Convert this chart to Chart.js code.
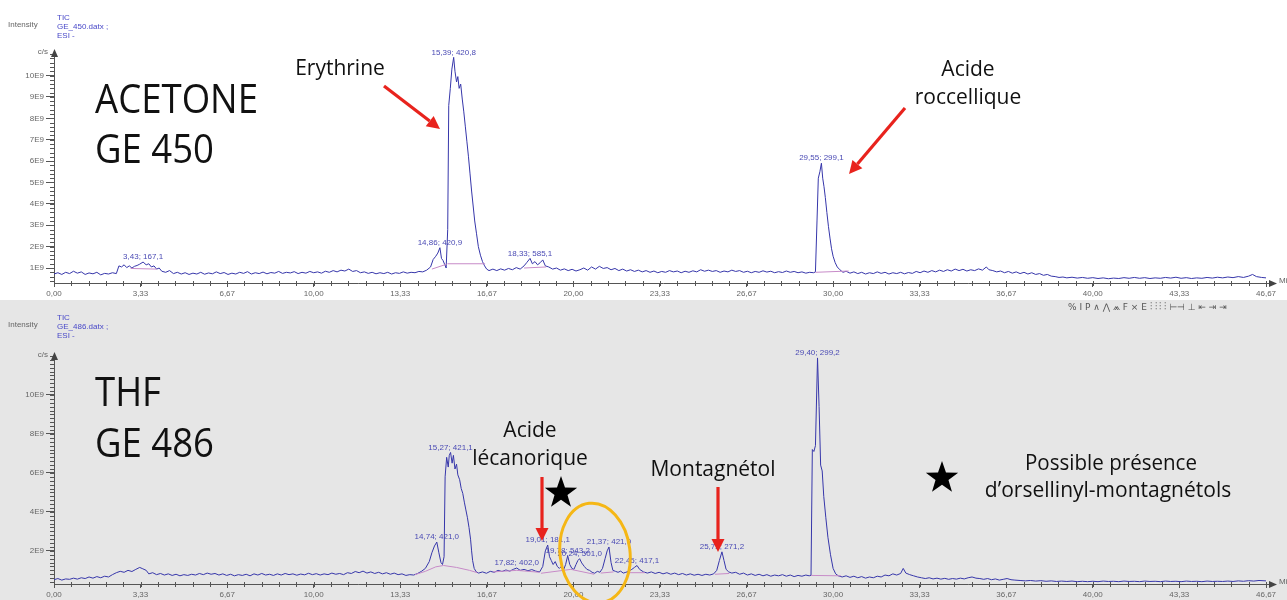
<!DOCTYPE html>
<html>
<head>
<meta charset="utf-8">
<script src="https://cdn.jsdelivr.net/npm/chart.js@4.4.1/dist/chart.umd.min.js"></script>
<style>
  html, body { margin: 0; padding: 0; background: #fff; }
  #wrap { position: relative; width: 1287px; height: 600px; overflow: hidden; }
  canvas { position: absolute; left: 0; display: block; }
  #top { top: 0; background: #ffffff; }
  #bottom { top: 300px; background: #e6e6e6; }
</style>
</head>
<body>
<div id="wrap">
  <canvas id="top" width="1287" height="300"></canvas>
  <canvas id="bottom" width="1287" height="300"></canvas>
</div>
<script>
// Retention-time axis (minutes)
const xTicks = [0, 3.33, 6.67, 10, 13.33, 16.67, 20, 23.33, 26.67, 30, 33.33, 36.67, 40, 43.33, 46.67];
const xTickLabels = ['0,00', '3,33', '6,67', '10,00', '13,33', '16,67', '20,00', '23,33', '26,67', '30,00', '33,33', '36,67', '40,00', '43,33', '46,67'];

// Intensity ticks (units of 1E9 c/s)
const acetoneYTicks = [1, 2, 3, 4, 5, 6, 7, 8, 9, 10];
const thfYTicks = [2, 4, 6, 8, 10];

// TIC trace, GE 450 (acetone extract): [minutes, intensity in 1E9 c/s]
const acetoneTic = [
  [0.00,0.72],[0.15,0.78],[0.30,0.70],[0.45,0.80],[0.60,0.74],[0.75,0.85],[0.90,0.76],[1.05,0.82],[1.20,0.70],[1.35,0.77],
  [1.50,0.73],[1.65,0.80],[1.80,0.68],[1.95,0.75],[2.10,0.72],[2.25,0.78],[2.40,0.74],[2.50,1.10],[2.60,1.05],[2.70,1.15],
  [2.80,1.02],[2.90,1.10],[3.00,1.00],[3.10,1.08],[3.20,1.12],[3.30,1.18],[3.43,1.28],[3.55,1.15],[3.65,1.20],[3.75,1.05],
  [3.85,1.10],[3.95,0.95],[4.05,1.00],[4.15,0.85],[4.30,0.80],[4.45,0.88],[4.60,0.74],[4.75,0.80],[4.90,0.72],[5.05,0.78],
  [5.20,0.70],[5.35,0.76],[5.50,0.72],[5.65,0.80],[5.80,0.71],[5.95,0.77],[6.10,0.73],[6.25,0.82],[6.40,0.74],[6.55,0.79],
  [6.70,0.70],[6.85,0.76],[7.00,0.72],[7.15,0.80],[7.30,0.75],[7.45,0.83],[7.60,0.72],[7.75,0.78],[7.90,0.74],[8.05,0.81],
  [8.20,0.73],[8.35,0.79],[8.50,0.76],[8.65,0.84],[8.80,0.75],[8.95,0.80],[9.10,0.77],[9.25,0.83],[9.40,0.74],[9.55,0.80],
  [9.70,0.76],[9.85,0.84],[10.00,0.78],[10.15,0.82],[10.30,0.76],[10.45,0.85],[10.60,0.80],[10.75,0.88],[10.90,0.82],[11.05,0.90],
  [11.20,0.86],[11.35,0.95],[11.50,0.84],[11.65,0.88],[11.80,0.78],[11.95,0.82],[12.10,0.75],[12.25,0.80],[12.40,0.73],[12.55,0.78],
  [12.70,0.74],[12.85,0.80],[13.00,0.72],[13.15,0.78],[13.30,0.75],[13.45,0.82],[13.60,0.76],[13.75,0.80],[13.90,0.78],[14.05,0.84],
  [14.20,0.82],[14.35,0.90],[14.50,1.05],[14.60,1.40],[14.70,1.55],[14.78,1.70],[14.86,1.95],[14.92,1.45],[14.98,1.35],[15.05,1.15],
  [15.10,1.00],[15.16,2.80],[15.20,8.60],[15.26,9.40],[15.32,10.30],[15.39,10.85],[15.44,10.20],[15.50,9.70],[15.55,9.95],[15.60,9.40],
  [15.66,9.60],[15.72,8.90],[15.78,8.30],[15.84,7.60],[15.90,6.90],[15.96,6.20],[16.02,5.40],[16.08,4.60],[16.14,3.90],[16.20,3.20],
  [16.27,2.60],[16.34,2.00],[16.42,1.60],[16.50,1.30],[16.58,1.10],[16.66,0.95],[16.75,0.88],[16.90,0.95],[17.05,0.88],[17.20,0.96],
  [17.35,0.90],[17.50,0.98],[17.65,0.92],[17.80,1.02],[17.95,0.95],[18.10,1.10],[18.20,1.25],[18.33,1.45],[18.42,1.20],[18.52,1.30],
  [18.62,1.15],[18.72,1.25],[18.82,1.38],[18.92,1.10],[19.05,1.05],[19.20,0.95],[19.35,1.00],[19.50,0.90],[19.65,0.96],[19.80,0.88],
  [19.95,0.94],[20.10,0.86],[20.25,0.92],[20.40,1.00],[20.55,0.90],[20.70,1.05],[20.85,0.95],[21.00,1.08],[21.15,0.98],[21.30,1.02],
  [21.45,0.92],[21.60,0.98],[21.75,0.88],[21.90,0.95],[22.05,0.86],[22.20,0.92],[22.35,0.84],[22.50,0.90],[22.65,0.82],[22.80,0.88],
  [22.95,0.80],[23.10,0.86],[23.25,0.78],[23.40,0.84],[23.55,0.80],[23.70,0.88],[23.85,0.82],[24.00,0.86],[24.15,0.78],[24.30,0.85],
  [24.45,0.80],[24.60,0.87],[24.75,0.82],[24.90,0.92],[25.05,0.85],[25.20,0.90],[25.35,0.84],[25.50,0.88],[25.65,0.80],[25.80,0.86],
  [25.95,0.82],[26.10,0.90],[26.25,0.84],[26.40,0.88],[26.55,0.80],[26.70,0.85],[26.85,0.78],[27.00,0.84],[27.15,0.80],[27.30,0.87],
  [27.45,0.81],[27.60,0.85],[27.75,0.78],[27.90,0.83],[28.05,0.79],[28.20,0.86],[28.35,0.80],[28.50,0.84],[28.65,0.78],[28.80,0.82],
  [28.95,0.76],[29.10,0.80],[29.25,0.78],[29.32,0.82],[29.38,3.20],[29.43,5.20],[29.49,5.50],[29.55,5.90],[29.60,5.20],[29.65,4.80],
  [29.70,4.30],[29.76,3.60],[29.82,2.95],[29.88,2.40],[29.94,1.90],[30.00,1.55],[30.08,1.25],[30.16,1.05],[30.26,0.92],[30.38,0.80],
  [30.50,0.85],[30.65,0.76],[30.80,0.82],[30.95,0.74],[31.10,0.80],[31.25,0.72],[31.40,0.78],[31.55,0.74],[31.70,0.82],[31.85,0.75],
  [32.00,0.80],[32.15,0.72],[32.30,0.78],[32.45,0.74],[32.60,0.80],[32.75,0.73],[32.90,0.79],[33.05,0.75],[33.20,0.84],[33.35,0.78],
  [33.50,0.86],[33.65,0.80],[33.80,0.88],[33.95,0.82],[34.10,0.90],[34.25,0.84],[34.40,0.92],[34.55,0.86],[34.70,0.95],[34.85,0.88],
  [35.00,0.94],[35.15,0.86],[35.30,0.92],[35.45,0.88],[35.60,0.96],[35.75,0.90],[35.90,1.05],[36.00,0.92],[36.15,0.88],[36.30,0.82],
  [36.45,0.86],[36.60,0.78],[36.75,0.84],[36.90,0.76],[37.05,0.82],[37.20,0.74],[37.35,0.80],[37.50,0.72],[37.65,0.78],[37.80,0.70],
  [37.95,0.74],[38.10,0.66],[38.25,0.70],[38.40,0.62],[38.55,0.60],[38.70,0.56],[38.85,0.58],[39.00,0.54],[39.20,0.57],[39.40,0.53],
  [39.60,0.56],[39.80,0.52],[40.00,0.55],[40.20,0.51],[40.40,0.54],[40.60,0.50],[40.80,0.53],[41.00,0.51],[41.20,0.55],[41.40,0.52],
  [41.60,0.56],[41.80,0.52],[42.00,0.55],[42.20,0.51],[42.40,0.54],[42.60,0.52],[42.80,0.56],[43.00,0.53],[43.20,0.57],[43.40,0.52],
  [43.60,0.55],[43.80,0.51],[44.00,0.54],[44.20,0.52],[44.40,0.56],[44.60,0.53],[44.80,0.57],[45.00,0.54],[45.20,0.58],[45.40,0.55],
  [45.60,0.60],[45.80,0.56],[46.00,0.62],[46.15,0.70],[46.30,0.60],[46.50,0.56],[46.67,0.54]
];

// TIC trace, GE 486 (THF extract): [minutes, intensity in 1E9 c/s]
const thfTic = [
  [0.00,0.52],[0.15,0.58],[0.30,0.50],[0.45,0.56],[0.60,0.54],[0.75,0.60],[0.90,0.55],[1.05,0.62],[1.20,0.58],[1.35,0.66],
  [1.50,0.60],[1.65,0.68],[1.80,0.62],[1.95,0.70],[2.10,0.66],[2.25,0.78],[2.40,0.88],[2.55,0.95],[2.70,0.90],[2.85,1.00],
  [3.00,0.94],[3.15,1.05],[3.30,1.15],[3.42,1.08],[3.55,1.00],[3.65,0.82],[3.80,0.88],[3.95,0.78],[4.10,0.84],[4.25,0.76],
  [4.40,0.82],[4.55,0.74],[4.70,0.80],[4.85,0.72],[5.00,0.78],[5.15,0.74],[5.30,0.80],[5.45,0.76],[5.60,0.84],[5.75,0.78],
  [5.90,0.86],[6.05,0.80],[6.20,0.84],[6.35,0.76],[6.50,0.82],[6.65,0.74],[6.80,0.80],[6.95,0.72],[7.10,0.78],[7.25,0.74],
  [7.40,0.80],[7.55,0.72],[7.70,0.82],[7.85,0.76],[8.00,0.84],[8.15,0.76],[8.30,0.80],[8.45,0.74],[8.60,0.82],[8.75,0.76],
  [8.90,0.84],[9.05,0.78],[9.20,0.82],[9.35,0.75],[9.50,0.81],[9.65,0.77],[9.80,0.85],[9.95,0.78],[10.10,0.83],[10.25,0.76],
  [10.40,0.82],[10.55,0.78],[10.70,0.86],[10.85,0.80],[11.00,0.84],[11.15,0.78],[11.30,0.88],[11.45,0.84],[11.60,0.94],[11.75,0.88],
  [11.90,0.96],[12.05,0.86],[12.20,0.92],[12.35,0.84],[12.50,0.90],[12.65,0.82],[12.80,0.88],[12.95,0.80],[13.10,0.86],[13.25,0.78],
  [13.40,0.82],[13.55,0.74],[13.70,0.78],[13.85,0.76],[14.00,0.84],[14.15,0.95],[14.30,1.10],[14.45,1.45],[14.55,1.90],[14.65,2.25],
  [14.74,2.45],[14.82,1.90],[14.90,1.40],[14.96,1.30],[15.02,1.70],[15.06,5.80],[15.12,6.80],[15.18,6.30],[15.22,6.90],[15.27,7.05],
  [15.33,6.50],[15.38,6.90],[15.44,6.20],[15.50,6.45],[15.55,5.90],[15.62,5.65],[15.68,5.20],[15.74,4.95],[15.80,4.50],[15.86,4.10],
  [15.92,3.70],[15.98,3.20],[16.04,2.60],[16.08,2.00],[16.12,1.50],[16.18,1.10],[16.26,0.92],[16.35,0.86],[16.50,0.92],[16.65,0.85],
  [16.80,0.95],[16.95,0.90],[17.10,1.00],[17.25,0.94],[17.40,1.02],[17.55,0.96],[17.70,1.06],[17.82,1.12],[17.95,1.00],[18.10,1.05],
  [18.25,0.98],[18.40,1.04],[18.55,0.96],[18.70,0.92],[18.82,1.20],[18.92,2.00],[19.01,2.30],[19.08,1.70],[19.15,1.50],[19.22,1.30],
  [19.30,1.45],[19.38,1.20],[19.46,1.10],[19.55,1.22],[19.62,1.02],[19.70,1.30],[19.78,1.75],[19.86,1.30],[19.94,1.10],[20.02,1.05],
  [20.10,1.30],[20.17,1.50],[20.24,1.60],[20.32,1.38],[20.42,1.20],[20.52,1.05],[20.62,1.00],[20.72,0.90],[20.82,0.85],[20.92,0.95],
  [21.02,0.90],[21.12,1.10],[21.22,1.60],[21.30,2.00],[21.37,2.20],[21.45,1.40],[21.52,1.00],[21.62,0.95],[21.72,0.90],[21.82,0.96],
  [21.92,0.86],[22.02,0.90],[22.12,0.95],[22.25,1.05],[22.35,1.15],[22.45,1.25],[22.55,1.05],[22.70,0.92],[22.85,0.86],[23.00,0.92],
  [23.15,0.84],[23.30,0.90],[23.45,0.82],[23.60,0.88],[23.75,0.80],[23.90,0.86],[24.05,0.78],[24.20,0.84],[24.35,0.76],[24.50,0.82],
  [24.65,0.75],[24.80,0.80],[24.95,0.74],[25.10,0.80],[25.25,0.76],[25.40,0.82],[25.52,1.00],[25.62,1.50],[25.72,1.95],[25.80,1.50],
  [25.88,1.05],[25.98,0.92],[26.10,0.86],[26.25,0.90],[26.40,0.80],[26.55,0.86],[26.70,0.76],[26.85,0.82],[27.00,0.74],[27.15,0.80],
  [27.30,0.72],[27.45,0.78],[27.60,0.70],[27.75,0.76],[27.90,0.72],[28.05,0.78],[28.20,0.70],[28.35,0.76],[28.50,0.68],[28.65,0.74],
  [28.80,0.70],[28.95,0.76],[29.08,0.72],[29.15,0.75],[29.20,7.20],[29.26,7.10],[29.32,7.40],[29.40,11.90],[29.46,9.40],[29.52,6.40],
  [29.58,6.10],[29.64,4.80],[29.72,3.70],[29.80,2.70],[29.90,1.80],[30.00,1.10],[30.10,0.82],[30.20,0.72],[30.35,0.66],[30.50,0.72],
  [30.65,0.64],[30.80,0.70],[30.95,0.62],[31.10,0.68],[31.25,0.60],[31.40,0.66],[31.55,0.62],[31.70,0.70],[31.85,0.66],[32.00,0.76],
  [32.15,0.72],[32.30,0.82],[32.45,0.76],[32.60,0.84],[32.70,1.10],[32.80,0.86],[32.95,0.78],[33.10,0.72],[33.25,0.66],[33.40,0.62],
  [33.55,0.58],[33.70,0.62],[33.85,0.56],[34.00,0.60],[34.15,0.55],[34.30,0.59],[34.45,0.54],[34.60,0.58],[34.75,0.55],[34.90,0.60],
  [35.05,0.56],[35.20,0.62],[35.35,0.66],[35.50,0.60],[35.65,0.58],[35.80,0.54],[35.95,0.58],[36.10,0.52],[36.25,0.56],[36.40,0.50],
  [36.55,0.54],[36.70,0.58],[36.85,0.52],[37.00,0.50],[37.20,0.48],[37.40,0.46],[37.60,0.48],[37.80,0.45],[38.00,0.47],[38.20,0.44],
  [38.40,0.46],[38.60,0.43],[38.80,0.45],[39.00,0.43],[39.20,0.45],[39.40,0.42],[39.60,0.44],[39.80,0.42],[40.00,0.44],[40.20,0.42],
  [40.40,0.45],[40.60,0.43],[40.80,0.44],[41.00,0.42],[41.20,0.45],[41.40,0.43],[41.60,0.44],[41.80,0.42],[42.00,0.45],[42.20,0.43],
  [42.40,0.44],[42.60,0.42],[42.80,0.45],[43.00,0.43],[43.20,0.44],[43.40,0.42],[43.60,0.45],[43.80,0.43],[44.00,0.44],[44.20,0.42],
  [44.40,0.45],[44.60,0.43],[44.80,0.44],[45.00,0.43],[45.20,0.45],[45.40,0.43],[45.60,0.46],[45.80,0.44],[46.00,0.47],[46.20,0.45],
  [46.40,0.48],[46.67,0.46]
];

// Integration baselines drawn under the detected peaks
const acetoneBaselines = [
  [[2.95,0.98],[3.95,0.95]],
  [[14.55,0.95],[15.12,1.18]],
  [[15.15,1.20],[16.60,1.20]],
  [[18.10,1.00],[18.95,1.05]],
  [[29.32,0.80],[30.60,0.86]]
];
const thfBaselines = [
  [[13.90,0.78],[14.30,0.95],[14.70,1.18],[15.00,1.25],[15.50,1.15],[16.00,1.00],[16.30,0.88]],
  [[16.90,0.92],[17.82,1.00],[18.70,0.90]],
  [[18.75,0.85],[19.90,1.05],[20.80,0.80]],
  [[21.05,0.86],[21.55,0.92]],
  [[22.10,0.88],[22.75,0.88]],
  [[25.45,0.80],[26.00,0.84]],
  [[29.15,0.74],[30.30,0.72]]
];

// Detected peaks: retention time (min) and base m/z
const acetonePeakTimes = [3.43, 14.86, 15.39, 18.33, 29.55];
const acetonePeakMz = [167.1, 420.9, 420.8, 585.1, 299.1];
const thfPeakTimes = [14.74, 15.27, 17.82, 19.01, 19.78, 20.24, 21.37, 22.45, 25.72, 29.40];
const thfPeakMz = [421.0, 421.1, 402.0, 181.1, 543.2, 501.0, 421.0, 417.1, 271.2, 299.2];

const TRACE = '#3636aa';
const BASE = '#c78bc8';
const LABEL_BLUE = '#4a4ab4';
const AXIS = '#555';
const SANS = '"Liberation Sans", Arial, sans-serif';
const BIG = '"Open Sans", "Noto Sans", sans-serif';

const fr = (v, d) => v.toFixed(d).replace('.', ',');

function toPoints(pairs) {
  return pairs.map(p => ({ x: p[0], y: p[1] }));
}
function segmentsToPoints(segs) {
  const out = [];
  segs.forEach((s, i) => {
    if (i > 0) out.push({ x: (segs[i - 1][segs[i - 1].length - 1][0] + s[0][0]) / 2, y: null });
    s.forEach(p => out.push({ x: p[0], y: p[1] }));
  });
  return out;
}

function drawArrow(ctx, x1, y1, x2, y2) {
  const ang = Math.atan2(y2 - y1, x2 - x1);
  const head = 13, half = 6.5;
  const bx = x2 - head * Math.cos(ang), by = y2 - head * Math.sin(ang);
  ctx.strokeStyle = '#e8231d';
  ctx.fillStyle = '#e8231d';
  ctx.lineWidth = 3.2;
  ctx.lineCap = 'butt';
  ctx.beginPath(); ctx.moveTo(x1, y1); ctx.lineTo(bx, by); ctx.stroke();
  ctx.beginPath();
  ctx.moveTo(x2, y2);
  ctx.lineTo(bx + half * Math.sin(ang), by - half * Math.cos(ang));
  ctx.lineTo(bx - half * Math.sin(ang), by + half * Math.cos(ang));
  ctx.closePath(); ctx.fill();
}

function drawStar(ctx, cx, cy, r) {
  const ri = r * 0.4;
  ctx.fillStyle = '#000';
  ctx.beginPath();
  for (let k = 0; k < 10; k++) {
    const a = -Math.PI / 2 + k * Math.PI / 5;
    const rr = k % 2 === 0 ? r : ri;
    const px = cx + rr * Math.cos(a), py = cy + rr * Math.sin(a);
    if (k === 0) ctx.moveTo(px, py); else ctx.lineTo(px, py);
  }
  ctx.closePath(); ctx.fill();
}

// Chromatogram furniture: minor ticks, axis arrows, header, peak labels, notes
function makeDecor(cfg) {
  return {
    id: 'decor',
    afterDraw(chart) {
      const ctx = chart.ctx;
      const xs = chart.scales.x, ys = chart.scales.y;
      const a = chart.chartArea;
      ctx.save();

      // minor ticks
      ctx.strokeStyle = AXIS; ctx.lineWidth = 1;
      ctx.beginPath();
      for (let k = 0; k <= 70; k++) {
        const px = Math.round(xs.getPixelForValue(k * 46.67 / 70)) + 0.5;
        ctx.moveTo(px, a.bottom - 2); ctx.lineTo(px, a.bottom + 3);
      }
      for (let k = 2; k * 0.2 <= ys.max; k++) {
        const py = Math.round(ys.getPixelForValue(k * 0.2)) + 0.5;
        ctx.moveTo(a.left - 4, py); ctx.lineTo(a.left, py);
      }
      ctx.stroke();

      // axis arrows
      ctx.fillStyle = '#444';
      ctx.beginPath();
      ctx.moveTo(a.left + 0.5, a.top - 3); ctx.lineTo(a.left - 3, a.top + 5); ctx.lineTo(a.left + 4, a.top + 5);
      ctx.closePath(); ctx.fill();
      ctx.beginPath();
      ctx.moveTo(a.right + 5, a.bottom + 0.5); ctx.lineTo(a.right - 3, a.bottom - 3); ctx.lineTo(a.right - 3, a.bottom + 4);
      ctx.closePath(); ctx.fill();

      // header texts
      const hy = cfg.headerY;
      ctx.font = '8px ' + SANS;
      ctx.fillStyle = '#666';
      ctx.textAlign = 'left'; ctx.textBaseline = 'middle';
      ctx.fillText('Intensity', 8, hy - 2);
      ctx.textAlign = 'right';
      ctx.fillText('c/s', a.left - 6, a.top);
      ctx.textAlign = 'left';
      ctx.fillText('Mi', a.right + 7, a.bottom - 2);
      ctx.fillStyle = '#4848c8';
      ctx.fillText('TIC', 57, hy - 9);
      ctx.fillText(cfg.file, 57, hy);
      ctx.fillText('ESI -', 57, hy + 9);

      // peak labels
      ctx.font = '8px ' + SANS;
      ctx.fillStyle = LABEL_BLUE;
      ctx.textAlign = 'center'; ctx.textBaseline = 'bottom';
      cfg.peakTimes.forEach((t, i) => {
        const pt = cfg.trace.find(p => p[0] === t);
        const px = xs.getPixelForValue(t);
        const py = ys.getPixelForValue(pt[1]);
        ctx.fillText(fr(t, 2) + '; ' + fr(cfg.peakMz[i], 1), px, py - 1);
      });

      // notes
      ctx.fillStyle = '#111';
      ctx.textBaseline = 'alphabetic';
      (cfg.texts || []).forEach(tx => {
        ctx.font = tx.size + 'px ' + BIG;
        ctx.textAlign = tx.align || 'left';
        if (tx.maxW) ctx.fillText(tx.s, tx.x, tx.y, tx.maxW); else ctx.fillText(tx.s, tx.x, tx.y);
      });
      (cfg.shapes || []).forEach(s => {
        if (s.kind === 'arrow') drawArrow(ctx, s.x1, s.y1, s.x2, s.y2);
        if (s.kind === 'star') drawStar(ctx, s.x, s.y, s.r);
        if (s.kind === 'ellipse') {
          ctx.strokeStyle = '#f5b716'; ctx.lineWidth = 3;
          ctx.beginPath(); ctx.ellipse(s.x, s.y, s.rx, s.ry, s.rot, 0, Math.PI * 2); ctx.stroke();
        }
      });
      if (cfg.toolbar) {
        ctx.font = '9px "DejaVu Sans", sans-serif';
        ctx.fillStyle = '#555'; ctx.textAlign = 'left'; ctx.textBaseline = 'middle';
        ctx.fillText('% I P ∧ ⋀ ⩕ F ⨯ E ⫶ ⫶ ⫶ ⫶ ⊢⊣ ⊥ ⇤ ⇥ ⇥', 1068, 8);
      }
      ctx.restore();
    }
  };
}

function makeChart(id, trace, baselines, yTicks, yMax, padTop, xHeight, decorCfg) {
  return new Chart(document.getElementById(id), {
    type: 'line',
    data: {
      datasets: [
        { data: segmentsToPoints(baselines), borderColor: BASE, borderWidth: 1, spanGaps: false },
        { data: toPoints(trace), borderColor: TRACE, borderWidth: 1 }
      ]
    },
    options: {
      responsive: false,
      animation: false,
      devicePixelRatio: 1,
      layout: { padding: { top: padTop, right: 15, bottom: 0, left: 0 } },
      elements: { point: { radius: 0 }, line: { tension: 0 } },
      plugins: { legend: { display: false }, tooltip: { enabled: false } },
      scales: {
        x: {
          type: 'linear', min: 0, max: 46.9,
          afterBuildTicks: s => { s.ticks = xTicks.map(v => ({ value: v })); },
          afterFit: s => { s.height = xHeight; },
          ticks: {
            autoSkip: false, maxRotation: 0, padding: 2,
            color: '#666', font: { family: SANS, size: 8 },
            callback: (v, i) => xTickLabels[i]
          },
          grid: { drawOnChartArea: false, tickLength: 4, color: AXIS },
          border: { color: AXIS, width: 1 }
        },
        y: {
          type: 'linear', min: 0.3, max: yMax,
          afterBuildTicks: s => { s.ticks = yTicks.map(v => ({ value: v })); },
          afterFit: s => { s.width = 54; },
          ticks: {
            padding: 2, color: '#666', font: { family: SANS, size: 8 },
            callback: v => v + 'E9'
          },
          grid: { drawOnChartArea: false, tickLength: 8, color: AXIS },
          border: { color: AXIS, width: 1 }
        }
      }
    },
    plugins: [makeDecor(decorCfg)]
  });
}

makeChart('top', acetoneTic, acetoneBaselines, acetoneYTicks, 11.1, 52, 17, {
  headerY: 27, file: 'GE_450.datx ;', trace: acetoneTic,
  peakTimes: acetonePeakTimes, peakMz: acetonePeakMz,
  shapes: [
    { kind: 'arrow', x1: 384, y1: 86, x2: 440, y2: 129 },
    { kind: 'arrow', x1: 905, y1: 108, x2: 849, y2: 174 }
  ],
  texts: [
    { s: 'ACETONE', x: 95, y: 113, size: 40, maxW: 163 },
    { s: 'GE 450', x: 95, y: 163, size: 40, maxW: 119 },
    { s: 'Erythrine', x: 340, y: 75, size: 21, align: 'center', maxW: 90 },
    { s: 'Acide', x: 968, y: 76, size: 21, align: 'center' },
    { s: 'roccellique', x: 968, y: 104, size: 21, align: 'center', maxW: 108 }
  ]
});

makeChart('bottom', thfTic, thfBaselines, thfYTicks, 12.05, 55, 16, {
  headerY: 27, file: 'GE_486.datx ;', trace: thfTic, toolbar: true,
  peakTimes: thfPeakTimes, peakMz: thfPeakMz,
  shapes: [
    { kind: 'arrow', x1: 542, y1: 177, x2: 542, y2: 241 },
    { kind: 'arrow', x1: 718, y1: 187, x2: 718, y2: 252 },
    { kind: 'star', x: 561, y: 193, r: 17 },
    { kind: 'star', x: 942, y: 178, r: 17 },
    { kind: 'ellipse', x: 595, y: 253, rx: 35, ry: 50, rot: -0.12 }
  ],
  texts: [
    { s: 'THF', x: 95, y: 106, size: 40, maxW: 66 },
    { s: 'GE 486', x: 95, y: 157, size: 40, maxW: 119 },
    { s: 'Acide', x: 530, y: 137, size: 21, align: 'center' },
    { s: 'lécanorique', x: 530, y: 165, size: 21, align: 'center', maxW: 116 },
    { s: 'Montagnétol', x: 713, y: 176, size: 21, align: 'center', maxW: 127 },
    { s: 'Possible présence', x: 1111, y: 170, size: 21, align: 'center', maxW: 172 },
    { s: 'd’orsellinyl-montagnétols', x: 1108, y: 197, size: 21, align: 'center', maxW: 247 }
  ]
});
</script>
</body>
</html>
